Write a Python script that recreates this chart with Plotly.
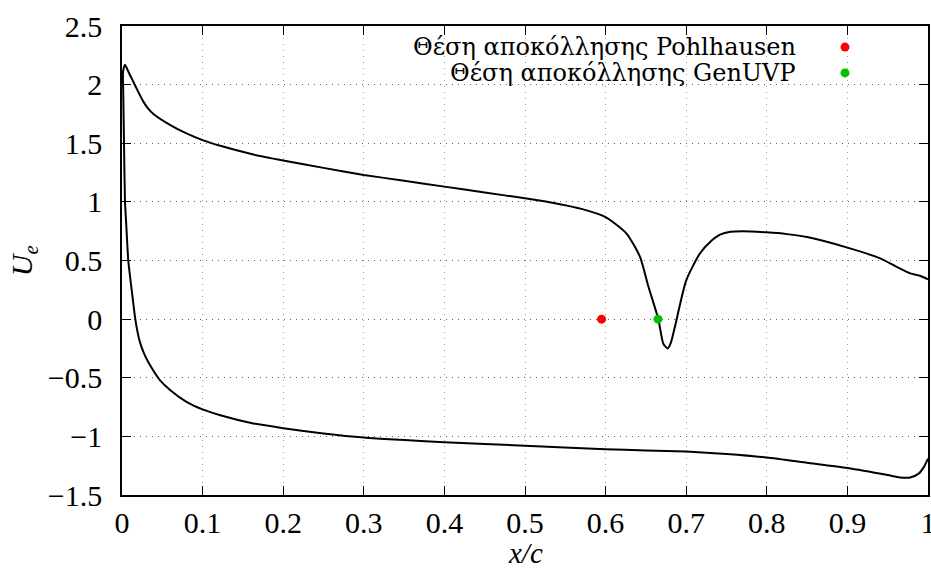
import plotly.graph_objects as go

# Lower surface (x from trailing edge to leading edge)
lower_x = [1.0, 0.995, 0.988, 0.978, 0.965, 0.95, 0.9, 0.85, 0.8, 0.75, 0.7, 0.65, 0.6,
           0.5, 0.4, 0.3, 0.25, 0.2, 0.163, 0.122, 0.1, 0.08, 0.06, 0.047, 0.039, 0.032,
           0.0265, 0.022, 0.019, 0.0165, 0.012, 0.0078, 0.005, 0.0037, 0.0025, 0.0015,
           0.0012]
lower_ue = [-1.19, -1.26, -1.32, -1.35, -1.35, -1.33, -1.27, -1.225, -1.18, -1.15, -1.13,
            -1.12, -1.11, -1.08, -1.05, -1.01, -0.975, -0.93, -0.89, -0.82, -0.77, -0.705,
            -0.606, -0.52, -0.44, -0.36, -0.28, -0.19, -0.10, 0.0, 0.25, 0.50, 0.84, 1.0,
            1.5, 1.95, 2.1]

# Upper surface (x from leading edge to trailing edge)
upper_x = [0.0025, 0.0037, 0.006, 0.01, 0.014, 0.02, 0.0265, 0.032, 0.039, 0.06, 0.08,
           0.1, 0.122, 0.163, 0.2, 0.25, 0.3, 0.35, 0.4, 0.45, 0.5, 0.5434, 0.57, 0.6,
           0.626, 0.6427, 0.653, 0.6654, 0.6716, 0.677, 0.681, 0.686, 0.70, 0.717, 0.73,
           0.742, 0.755, 0.77, 0.8, 0.825, 0.85, 0.9, 0.94, 0.96, 0.978, 0.99, 1.0]
upper_ue = [2.15, 2.17, 2.14, 2.08, 2.025, 1.94, 1.855, 1.80, 1.75, 1.655, 1.584,
            1.527, 1.478, 1.404, 1.353, 1.29, 1.23, 1.18, 1.13, 1.08, 1.03, 0.98, 0.94,
            0.87, 0.73, 0.53, 0.28, 0.0, -0.21, -0.25, -0.20, -0.065, 0.33, 0.56, 0.66,
            0.72, 0.745, 0.75, 0.74, 0.725, 0.70, 0.61, 0.52, 0.45, 0.39, 0.37, 0.34]

# Separation points
sep_names = ["Θέση αποκόλλησης Pohlhausen", "Θέση αποκόλλησης GenUVP"]
sep_x = [0.595, 0.665]
sep_ue = [0.0, 0.0]
sep_colors = ["#ff0000", "#00c000"]

x_ticks = [0, 0.1, 0.2, 0.3, 0.4, 0.5, 0.6, 0.7, 0.8, 0.9, 1]
x_tick_labels = ["0", "0.1", "0.2", "0.3", "0.4", "0.5", "0.6", "0.7", "0.8", "0.9", "1"]
y_ticks = [-1.5, -1, -0.5, 0, 0.5, 1, 1.5, 2, 2.5]
y_tick_labels = ["−1.5", "−1", "−0.5", "0", "0.5", "1", "1.5", "2", "2.5"]

FONT = "Liberation Serif"

fig = go.Figure()
fig.add_trace(go.Scatter(x=lower_x + upper_x, y=lower_ue + upper_ue, mode="lines",
                         line=dict(color="black", width=2, shape="spline", smoothing=0.6),
                         showlegend=False, hoverinfo="skip"))
for name, xv, yv, c in zip(sep_names, sep_x, sep_ue, sep_colors):
    fig.add_trace(go.Scatter(x=[xv], y=[yv], mode="markers", name=name,
                             marker=dict(color=c, size=9), showlegend=False))

# legend drawn gnuplot-style: text right-aligned, dot to the right
leg_y = [0.955, 0.900]
for name, c, ly in zip(sep_names, sep_colors, leg_y):
    fig.add_annotation(xref="paper", yref="paper", x=0.839, y=ly, text=name,
                       showarrow=False, xanchor="right", yanchor="middle",
                       font=dict(family="DejaVu Serif", size=24, color="black"))
    fig.add_shape(type="circle", xref="paper", yref="paper", xsizemode="pixel",
                  ysizemode="pixel", xanchor=0.897, yanchor=ly, x0=-4.5, x1=4.5,
                  y0=-4.5, y1=4.5, fillcolor=c, line=dict(width=0))

fig.add_annotation(xref="paper", yref="paper", x=-0.122, y=0.5,
                   text="<i>U<sub>e</sub></i>", showarrow=False, textangle=-90,
                   xanchor="center", yanchor="middle",
                   font=dict(family=FONT, size=30, color="black"))
fig.add_annotation(xref="paper", yref="paper", x=0.5, y=-0.123,
                   text="<i>x/c</i>", showarrow=False,
                   xanchor="center", yanchor="middle",
                   font=dict(family=FONT, size=29, color="black"))

axis_common = dict(showline=True, linecolor="black", linewidth=1.5, mirror="ticks",
                   ticks="inside", ticklen=9, tickcolor="black", tickwidth=1,
                   showgrid=True, griddash="1px,5px", gridwidth=1, zeroline=False,
                   automargin=False, ticklabeloverflow="allow",
                   tickfont=dict(family=FONT, size=30, color="black"))
fig.update_xaxes(range=[0, 1], tickvals=x_ticks, ticktext=x_tick_labels,
                 gridcolor="#a0a0a0", ticklabelstandoff=0, **axis_common)
fig.update_yaxes(range=[-1.5, 2.5], tickvals=y_ticks, ticktext=y_tick_labels,
                 gridcolor="#606060", ticklabelstandoff=12, **axis_common)

fig.update_layout(width=931, height=569, margin=dict(l=122, r=3, t=26, b=74),
                  plot_bgcolor="white", paper_bgcolor="white", showlegend=False)

fig.write_html("out.html", config={"displayModeBar": False},
               post_script="document.body.style.margin='0';"
                           "document.body.style.overflow='hidden';")
